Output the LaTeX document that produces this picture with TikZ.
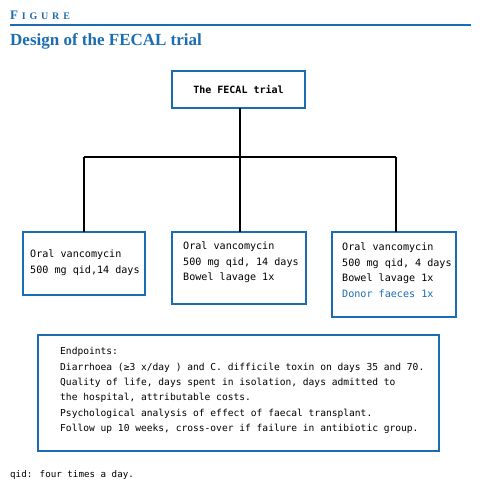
\documentclass[tikz,border=0pt]{standalone}
\usepackage{fontspec}
\setmainfont{Liberation Serif}
\newfontfamily\boxfont{DejaVu Sans Mono}
\definecolor{figblue}{HTML}{1B6DAF}
\newcommand{\sclet}[1]{\hspace{3.8pt}#1}
\begin{document}
\begin{tikzpicture}[x=1pt,y=-1pt,
  armbox/.style={draw=figblue,line width=1.2pt,fill=white},
  conn/.style={draw=black,line width=1.1pt},
  boxtext/.style={font=\boxfont\fontsize{10.1}{15.5}\selectfont,align=left,anchor=north west,inner sep=0pt}]
\useasboundingbox (0,0) rectangle (480,486);
% header
\node[anchor=base west,inner sep=0pt,text=figblue,font=\fontsize{13}{13}\selectfont\bfseries] (fig) at (10,19.5) {F\fontsize{10}{10}\selectfont\sclet{I}\sclet{G}\sclet{U}\sclet{R}\sclet{E}};
\draw[figblue,line width=1.2pt] (10,25) -- (471,25);
\node[anchor=base west,inner sep=0pt,text=figblue,font=\fontsize{17}{17}\selectfont\bfseries] (ttl) at (10,45.5) {Design of the FECAL trial};
% boxes
\draw[armbox] (172,71) rectangle (305,108);
\node[font=\boxfont\bfseries\fontsize{10}{12}\selectfont,inner sep=0pt] (top) at (238.5,90) {The FECAL trial};
\coordinate (topb) at (240,108);
\coordinate (split) at (240,157);
\coordinate (la) at (84,157);
\coordinate (ra) at (396,157);
\draw[armbox] (23,232) rectangle (145,295);
\draw[armbox] (172,232) rectangle (306,304);
\draw[armbox] (332,232) rectangle (456,317);
\coordinate (b1) at (84,232);
\coordinate (b2) at (240,232);
\coordinate (b3) at (396,232);
\draw[conn] (topb) -- (split);
\draw[conn] (la) -- (ra);
\draw[conn] (la) -- (b1);
\draw[conn] (split) -- (b2);
\draw[conn] (ra) -- (b3);
\node[boxtext] (t1) at (30,250) {Oral vancomycin\\500 mg qid,14 days};
\node[boxtext] (t2) at (183,242) {Oral vancomycin\\500 mg qid, 14 days\\Bowel lavage 1x};
\node[boxtext] (t3) at (342,243) {Oral vancomycin\\500 mg qid, 4 days\\Bowel lavage 1x\\\textcolor{figblue}{Donor faeces 1x}};
\draw[armbox] (38,335) rectangle (439,451);
\node[boxtext,font=\boxfont\fontsize{9.6}{15.3}\selectfont] (ep) at (60,347.5) {Endpoints:\\Diarrhoea (≥3 x/day ) and C. difficile toxin on days 35 and 70.\\Quality of life, days spent in isolation, days admitted to\\the hospital, attributable costs.\\Psychological analysis of effect of faecal transplant.\\Follow up 10 weeks, cross-over if failure in antibiotic group.};
\node[anchor=base west,inner sep=0pt,font=\boxfont\fontsize{9.2}{11}\selectfont] (fn) at (10,477) {qid: four times a day.};
\end{tikzpicture}
\end{document}
